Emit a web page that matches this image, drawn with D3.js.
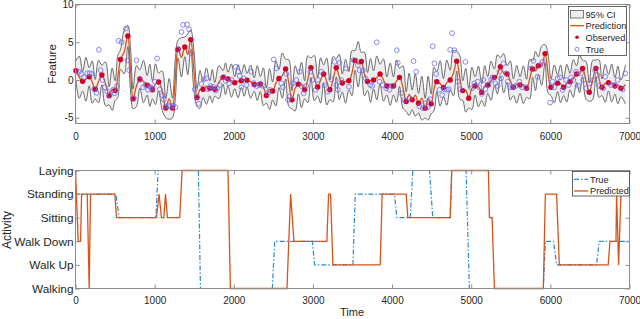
<!DOCTYPE html>
<html>
<head>
<meta charset="utf-8">
<script src="https://cdn.jsdelivr.net/npm/d3@7"></script>
<style>
body { margin: 0; background: #fff; }
text { font-family: "Liberation Sans", Arial, sans-serif; fill: #262626; }
</style>
</head>
<body>
<svg id="chart" width="640" height="319"></svg>
<script>
// ---- top panel: observed feature, GP prediction and 95% CI ----
var obsTime = [5,90,173,249,333,425,501,569,661,728,
  813,905,973,1049,1141,1225,1296,1381,1456,1536,
  1612,1697,1760,1864,1927,2012,2096,2167,2258,2336,
  2412,2491,2571,2655,2735,2816,2895,2975,3059,3135,
  3214,3295,3371,3454,3532,3611,3690,3766,3848,3934,
  4018,4094,4178,4254,4334,4418,4494,4565,4649,4734,
  4817,4893,4969,5049,5133,5208,5293,5369,5453,5533,
  5617,5700,5776,5848,5933,6008,6092,6167,6248,6331,
  6407,6492,6576,6652,6735,6816,6892];
var obsValue = [1.22,-0.17,0.43,-1.23,0.66,-2.1,-1.4,2.72,5.83,-2.5,
  0.13,-0.7,-1.3,-0.26,-3.7,-3.7,4.08,4.38,5.35,-2.33,
  -1.23,-1.1,-1.23,0.35,0.13,-0.35,-0.09,-0.04,-0.6,-0.53,
  -2.06,-1.45,0.2,1.45,-2.63,-0.55,-1.3,1.62,-0.92,0.79,
  -1.3,1.62,-0.4,-0.1,2.58,2.45,-0.2,0.0,0.79,-0.79,
  -0.79,0.35,-2.85,-2.63,-3.07,-3.73,-3.16,-0.22,-1.0,0.0,
  2.5,-1.4,-2.41,-0.79,-1.62,-0.66,0.35,1.75,0.79,-0.96,
  -0.66,-1.1,1.45,1.88,3.5,-0.96,-0.44,-0.96,-0.22,0.79,
  1.54,-1.62,1.54,-0.96,-0.35,-0.79,-1.1];
// prediction half way between observations (last one = tail end)
var midValue = [0.37,0.09,-0.28,-0.2,-0.5,-1.23,0.46,3.7,1.5,-0.8,
  -0.2,-0.7,-0.55,-1.4,-2.5,0.1,3.0,3.4,1.3,-1.25,
  -0.8,-0.8,-0.3,0.17,-0.08,-0.15,-0.05,-0.22,-0.4,-0.9,
  -1.2,-0.45,0.58,-0.4,-1.1,-0.65,0.1,0.25,-0.05,-0.2,
  0.1,0.4,-0.18,0.9,2.1,0.8,-0.07,0.28,0.0,-0.55,
  -0.15,-0.9,-1.9,-2.0,-2.4,-2.4,-1.2,-0.45,-0.35,0.9,
  0.35,-1.35,-1.1,-0.85,-0.8,-0.1,0.75,0.9,-0.06,-0.57,
  -0.62,0.1,1.2,1.9,0.9,-0.5,-0.5,-0.42,0.2,0.82,
  -0.03,-0.03,0.2,-0.45,-0.4,-0.66,-0.6];
var tailTime = 6950;
// CI half widths: at the observations and half way between them
var ciNarrow = [1.3,1.3,1.2,1.3,1.3,1.2,1.3,1.3,1.4,1.3,1.2,1.3,1.2,
  1.2,1.3,1.3,1.2,1.3,1.3,1.2,1.1,
  1.0,0.9,0.9,0.9,0.8,0.9,0.9,0.9,1.0,1.0,
  1.2,1.2,1.3,1.2,1.3,1.2,1.3,1.2,1.2,1.3,1.2,1.2,1.2,1.3,1.2,1.2,1.2,1.3,1.2,1.2,
  1.2,1.3,1.3,1.3,1.3,1.3,1.3,1.2,1.3,1.3,1.3,1.3,
  1.2,1.1,1.1,1.1,1.2,1.1,1.1,1.1,1.2,1.1,1.2,1.2,1.1,1.1,1.1,1.1,1.1,1.1,1.2,1.1,1.1,1.1,1.1,1.1];
var ciWide = [2.8,2.9,2.8,2.8,2.9,2.8,2.8,2.9,2.8,2.7,2.8,2.8,2.7,
  2.6,2.7,2.6,2.6,2.7,2.6,2.5,2.4,
  2.2,2.2,2.1,2.2,2.2,2.1,2.2,2.3,2.5,2.7,
  3.0,3.0,3.1,3.0,3.0,3.1,3.0,3.0,3.1,3.0,3.0,2.9,3.0,3.0,2.9,2.9,2.9,2.8,2.8,2.8,
  2.8,2.8,2.8,2.9,2.9,2.9,3.0,3.0,3.0,2.9,2.9,2.8,
  2.7,2.7,2.6,2.6,2.6,2.6,2.5,2.5,2.6,2.6,2.6,2.6,2.5,2.5,2.5,2.5,2.5,2.5,2.6,2.5,2.5,2.5,2.5,
  2.6];
var trueTime = [43,72,106,148,180,203,236,266,295,317,342,371,400,434,476,497,526,544,582,636,
  657,678,737,771,813,854,885,917,948,970,1002,1031,1065,1099,1116,1137,1170,1200,1233,1263,
  1288,1339,1359,1410,1435,1465,1507,1536,1557,1591,1620,1654,1675,1705,1738,1772,1788,1822,1873,1898,
  1940,1974,2024,2053,2075,2096,2125,2159,2222,2251,2289,2327,2369,2432,2453,2504,2538,2601,2621,2664,
  2684,2706,2747,2790,2832,2853,2882,2917,2967,2992,3034,3063,3106,3147,3189,3232,3274,3295,3315,3337,
  3358,3421,3454,3513,3568,3589,3631,3665,3724,3749,3807,3841,3883,3926,3968,4002,4060,4072,4115,4157,
  4220,4271,4305,4346,4388,4422,4451,4481,4514,4536,4557,4599,4633,4662,4691,4716,4734,4759,4788,4830,
  4860,4927,5011,5040,5082,5103,5133,5154,5179,5221,5251,5272,5306,5335,5356,5377,5406,5440,5461,5491,
  5524,5558,5608,5642,5693,5756,5785,5839,5870,5902,5996,6028,6050,6092,6122,6155,6198,6231,6261,6290,
  6324,6357,6387,6416,6450,6492,6542,6567,6596,6618,6668,6693,6765,6807,6849,6912,6946];
var trueValue = [1.1,0.8,0.35,0.9,0.9,0.8,-1.2,-1.7,4.0,1.3,0.0,-0.96,-1.5,-2.0,-1.3,-1.75,-0.8,5.2,5.0,6.8,
  2.6,1.3,-2.4,2.6,0.0,-0.96,-0.66,-1.3,-0.96,-1.1,-0.22,2.85,-1.23,-2.0,-2.6,-3.5,-3.4,-3.5,-3.4,-3.6,
  4.0,6.36,7.3,7.36,6.7,3.5,-1.23,-2.2,-3.15,-0.53,0.1,0.22,-1.23,-0.8,-0.88,-1.4,-1.1,-0.66,0.4,-0.1,
  -0.44,0.0,1.75,1.1,0.53,-0.96,0.2,-0.66,1.1,-0.4,-0.8,-0.66,-0.79,-1.75,-1.3,2.72,1.54,-0.44,-0.96,0.8,
  -2.63,-2.2,-0.44,0.0,1.1,-0.79,-1.75,-0.79,1.1,0.0,-1.3,0.0,1.1,-0.66,-1.54,0.1,2.4,-0.66,-1.3,2.28,
  0.0,1.54,-0.88,2.63,1.97,1.3,1.3,0.22,-0.66,-0.79,5.0,-0.22,-0.66,-1.1,-1.3,-0.79,3.95,2.28,-1.75,-2.63,
  -2.4,2.5,1.1,-3.5,-3.73,-3.07,-3.6,-2.54,4.47,2.2,0.8,-1.3,-2.0,-1.23,-1.3,-1.23,4.0,6.2,3.95,-0.22,
  -1.23,2.4,-1.1,-0.44,-0.22,-0.96,-1.84,0.0,-1.23,-0.66,0.0,0.35,-0.44,-0.79,1.1,0.22,2.2,0.88,-0.22,-0.96,
  -0.96,-0.79,-0.22,-0.96,-0.96,1.54,2.54,0.43,1.97,2.4,-3.0,-0.22,-0.96,0.22,0.35,-1.3,0.0,-0.66,0.35,0.0,
  1.1,-0.79,0.88,0.0,-1.1,-0.44,0.0,1.3,0.66,-0.79,-1.1,0.43,-0.66,-0.66,0.0,-1.23,0.88];

// ---- bottom panel: activity class over time ----
var activityLevels = ["Walking", "Walk Up", "Walk Down", "Sitting", "Standing", "Laying"];
var actTrueTime = [0,510,552,1015,1044,1553,1579,2487,2517,2992,3021,3505,3535,4031,4060,4229,4262,4473,4514,4734,4754,4935,4977,5911,5937,6041,6079,6584,6618,7000];
var actTrueLevel = [5,5,4,4,6,6,1,1,3,3,2,2,5,5,4,4,6,6,4,4,6,6,1,1,3,3,2,2,3,3];
var actPredTime = [0,34,64,77,148,173,190,497,518,1023,1056,1086,1116,1137,1162,1317,1347,1927,1957,2672,2718,2760,3176,3198,3223,3252,3850,3875,4178,4199,4734,4754,5217,5230,5264,5293,5911,5937,6079,6113,6731,6753,6829,6837,6862,6892];
var actPredLevel = [6,3,3,5,5,1,5,5,4,4,5,4,4,5,4,4,6,6,1,1,5,3,3,5,5,2,2,5,5,4,4,6,6,4,4,1,1,5,5,2,2,3,3,5,2,5];

var xTicks = [0,1000,2000,3000,4000,5000,6000,7000];
var featureTicks = [-5,0,5,10];

var orange = "#D95319", boxColor = "#8c8c8c", obsRed = "#d10026", trueBlue = "#6b6bf5";
var svg = d3.select("#chart");

var x = d3.scaleLinear().domain([0, 7000]).range([75.5, 629.5]);
var yF = d3.scaleLinear().domain([-5.76, 10]).range([123.5, 4.5]);
var yA = d3.scaleLinear().domain([1, 6]).range([288.5, 170.5]);

function styleAxis(g, size) {
  g.select(".domain").remove();
  g.selectAll(".tick line").attr("stroke", boxColor);
  g.selectAll(".tick text").attr("font-size", size).attr("fill", "#262626");
}

function frame(yScale, yVals, yFmt, yFont, xPad, top, bottom) {
  var g = svg.append("g");
  g.append("g").attr("transform", "translate(0," + bottom + ")")
    .call(d3.axisBottom(x).tickValues(xTicks).tickSize(-4).tickPadding(xPad).tickFormat(d3.format("d")))
    .call(styleAxis, "10px");
  g.append("g").attr("transform", "translate(0," + top + ")")
    .call(d3.axisTop(x).tickValues(xTicks).tickSize(-4).tickFormat(""))
    .call(styleAxis, "10px");
  g.append("g").attr("transform", "translate(" + x.range()[0] + ",0)")
    .call(d3.axisLeft(yScale).tickValues(yVals).tickSize(-4).tickPadding(2).tickFormat(yFmt))
    .call(styleAxis, yFont);
  g.append("g").attr("transform", "translate(" + x.range()[1] + ",0)")
    .call(d3.axisRight(yScale).tickValues(yVals).tickSize(-4).tickFormat(""))
    .call(styleAxis, yFont);
  g.append("rect")
    .attr("x", x.range()[0]).attr("y", top)
    .attr("width", x.range()[1] - x.range()[0]).attr("height", bottom - top)
    .attr("fill", "none").attr("stroke", boxColor);
}

// ---- top panel ----
var predPts = [];
obsTime.forEach(function(t, i) {
  predPts.push({t: t, v: obsValue[i], h: ciNarrow[i]});
  var tn = i < obsTime.length - 1 ? (t + obsTime[i + 1]) / 2 : tailTime;
  predPts.push({t: tn, v: midValue[i], h: ciWide[i]});
});

var smooth = d3.curveCatmullRom.alpha(0.5);

var band = svg.append("g");
band.append("path").datum(predPts)
  .attr("fill", "#eeeeee")
  .attr("d", d3.area().curve(smooth)
    .x(function(d) { return x(d.t); })
    .y0(function(d) { return yF(d.v - d.h); })
    .y1(function(d) { return yF(d.v + d.h); }));
[1, -1].forEach(function(s) {
  band.append("path").datum(predPts)
    .attr("fill", "none").attr("stroke", "#5a5a5a").attr("stroke-width", 0.9)
    .attr("d", d3.line().curve(smooth)
      .x(function(d) { return x(d.t); })
      .y(function(d) { return yF(d.v + s * d.h); }));
});

svg.append("path").datum(predPts)
  .attr("fill", "none").attr("stroke", orange).attr("stroke-width", 1.3)
  .attr("d", d3.line().curve(smooth)
    .x(function(d) { return x(d.t); })
    .y(function(d) { return yF(d.v); }));

svg.append("g").selectAll("circle")
  .data(obsTime)
  .enter().append("circle")
    .attr("cx", function(d) { return x(d); })
    .attr("cy", function(d, i) { return yF(obsValue[i]); })
    .attr("r", 2.7)
    .attr("fill", obsRed);

svg.append("g").selectAll("circle")
  .data(trueTime)
  .enter().append("circle")
    .attr("cx", function(d) { return x(d); })
    .attr("cy", function(d, i) { return yF(trueValue[i]); })
    .attr("r", 2.4)
    .attr("fill", "none").attr("stroke", trueBlue).attr("stroke-width", 0.8);

frame(yF, featureTicks, function(d) { return String(d); }, "10px", 9, 4.5, 123.5);

svg.append("text")
  .attr("transform", "translate(52,64) rotate(-90)")
  .attr("text-anchor", "middle").attr("dy", "0.35em")
  .attr("font-size", "11.5px")
  .text("Feature");

// top legend
var lg = svg.append("g");
lg.append("rect").attr("x", 568.5).attr("y", 6.5).attr("width", 58).attr("height", 49)
  .attr("fill", "#fff").attr("stroke", "#404040").attr("stroke-width", 0.8);
lg.append("rect").attr("x", 570.5).attr("y", 10.5).attr("width", 13).attr("height", 7.5)
  .attr("fill", "#eeeeee").attr("stroke", "#5a5a5a").attr("stroke-width", 0.8);
lg.append("line").attr("x1", 570).attr("x2", 584).attr("y1", 25.7).attr("y2", 25.7)
  .attr("stroke", orange).attr("stroke-width", 1.3);
lg.append("circle").attr("cx", 577).attr("cy", 37.3).attr("r", 1.8).attr("fill", obsRed);
lg.append("circle").attr("cx", 577).attr("cy", 49.3).attr("r", 2).attr("fill", "none")
  .attr("stroke", trueBlue).attr("stroke-width", 0.8);
lg.selectAll("text.lab")
  .data(["95% CI", "Prediction", "Observed", "True"])
  .enter().append("text")
    .attr("x", 585.5)
    .attr("y", function(d, i) { return 14.3 + i * 11.7; })
    .attr("dy", "0.35em")
    .attr("font-size", "9.2px").attr("fill", "#000")
    .text(function(d) { return d; });

// ---- bottom panel ----
var actLine = d3.line()
  .x(function(d) { return x(d[0]); })
  .y(function(d) { return yA(d[1]); });

svg.append("path")
  .datum(d3.zip(actTrueTime, actTrueLevel))
  .attr("fill", "none").attr("stroke", "#2b8ad3").attr("stroke-width", 1.2)
  .attr("stroke-dasharray", "5,2,1.5,2")
  .attr("d", actLine);

svg.append("path")
  .datum(d3.zip(actPredTime, actPredLevel))
  .attr("fill", "none").attr("stroke", orange).attr("stroke-width", 1.3)
  .attr("d", actLine);

frame(yA, [1,2,3,4,5,6], function(d) { return activityLevels[d - 1]; }, "11.8px", 8, 170.5, 288.5);

svg.append("text")
  .attr("transform", "translate(7,230) rotate(-90)")
  .attr("text-anchor", "middle").attr("dy", "0.35em")
  .attr("font-size", "12px")
  .text("Activity");

svg.append("text")
  .attr("x", 352).attr("y", 316)
  .attr("text-anchor", "middle")
  .attr("font-size", "11px")
  .text("Time");

// bottom legend
var lg2 = svg.append("g");
lg2.append("rect").attr("x", 572.5).attr("y", 171.5).attr("width", 57).attr("height", 24.5)
  .attr("fill", "#fff").attr("stroke", "#404040").attr("stroke-width", 0.8);
lg2.append("line").attr("x1", 574).attr("x2", 588).attr("y1", 179.3).attr("y2", 179.3)
  .attr("stroke", "#2b8ad3").attr("stroke-width", 1.2).attr("stroke-dasharray", "5,2,1.5,2");
lg2.append("line").attr("x1", 574).attr("x2", 588).attr("y1", 191).attr("y2", 191)
  .attr("stroke", orange).attr("stroke-width", 1.3);
lg2.selectAll("text.lab")
  .data(["True", "Predicted"])
  .enter().append("text")
    .attr("x", 590)
    .attr("y", function(d, i) { return 179.3 + i * 11.7; })
    .attr("dy", "0.35em")
    .attr("font-size", "9.2px").attr("fill", "#000")
    .text(function(d) { return d; });
</script>
</body>
</html>
